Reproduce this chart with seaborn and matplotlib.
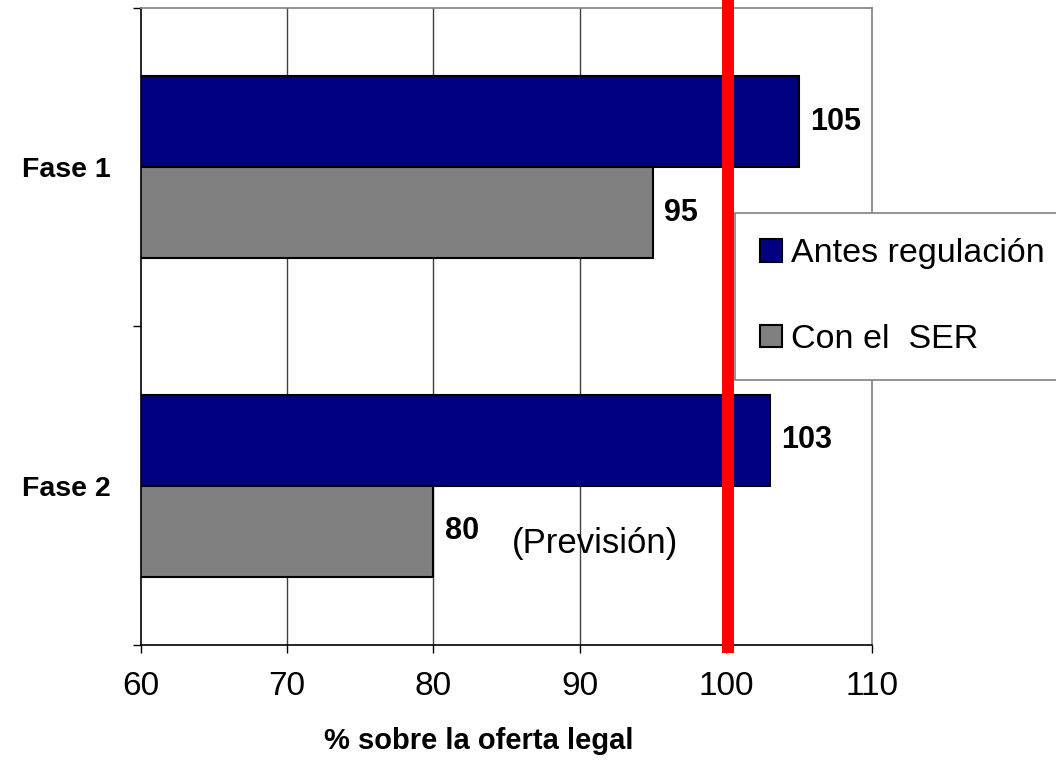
import numpy as np
import pandas as pd
import seaborn as sns
from matplotlib import pyplot as plt

# data
fases = ['Fase 1', 'Fase 2']
antes = [105, 103]
con_ser = [95, 80]
series = ['Antes regulación', 'Con el  SER']
colors = ['#000080', '#808080']
x_ticks = [60, 70, 80, 90, 100, 110]

df = pd.DataFrame({
    'fase': fases * 2,
    'valor': antes + con_ser,
    'serie': [series[0]] * len(fases) + [series[1]] * len(fases),
})

sns.set_style('white')
plt.rcParams['font.family'] = ['Liberation Sans', 'DejaVu Sans']
plt.rcParams['text.color'] = 'black'
plt.rcParams['xtick.color'] = 'black'
plt.rcParams['ytick.color'] = 'black'
plt.rcParams['axes.labelcolor'] = 'black'

fig = plt.figure(figsize=(10.56, 7.6), dpi=100)
ax = fig.add_axes([0.1335, 0.1513, 0.6923, 0.8382])

sns.barplot(data=df, y='fase', x='valor', hue='serie', orient='h',
            palette=colors, width=0.57, edgecolor='black', linewidth=1.5,
            saturation=1, ax=ax, zorder=2)

ax.set_xlim(60, 110)
ax.set_ylim(1.5, -0.5)
ax.set_xticks(x_ticks)
ax.set_xticklabels([str(t) for t in x_ticks], fontsize=24)
ax.set_yticks([0, 1])
ax.set_yticklabels(fases, fontsize=20.5, fontweight='bold')
ax.set_yticks([-0.5, 0.5, 1.5], minor=True)
ax.tick_params(axis='y', which='major', length=0, pad=22)
ax.tick_params(axis='y', which='minor', length=6, width=1, color='black', direction='out', left=True)
ax.tick_params(axis='x', length=6, width=1, color='black', direction='out', bottom=True, pad=13)

ax.set_xlabel('% sobre la oferta legal', fontsize=21, fontweight='bold')
ax.xaxis.set_label_coords(0.462, -0.151)
ax.xaxis.label.set_va('center')
ax.set_ylabel('')

# grid & frame
for t in x_ticks[1:-1]:
    ax.axvline(t, color='#404040', linewidth=1, zorder=1)
ax.spines['left'].set_color('black')
ax.spines['bottom'].set_color('black')
ax.spines['top'].set_color('#808080')
ax.spines['right'].set_color('#808080')
for s in ax.spines.values():
    s.set_linewidth(1.2)

# value labels
for cont in ax.containers:
    ax.bar_label(cont, fmt='%d', padding=8, fontsize=22, fontweight='bold')

ax.text(85.4, 1.18, '(Previsión)', fontsize=25, ha='left', va='center')

# red reference line at 100
ax.plot([100.15, 100.15], [-0.013, 1.02], color='red', linewidth=8.6,
        transform=ax.get_xaxis_transform(), clip_on=False, zorder=5,
        solid_capstyle='butt')

leg = ax.legend(loc='upper left', bbox_to_anchor=(0.696, 0.72),
                bbox_transform=fig.transFigure, fontsize=24.5, frameon=True,
                fancybox=False, edgecolor='#808080', framealpha=1,
                handlelength=0.64, handleheight=0.64, handletextpad=0.25,
                labelspacing=1.6, borderpad=0.75, borderaxespad=0)
leg.get_frame().set_linewidth(1.2)
leg.set_zorder(6)

fig.savefig('out.png', dpi=100)
